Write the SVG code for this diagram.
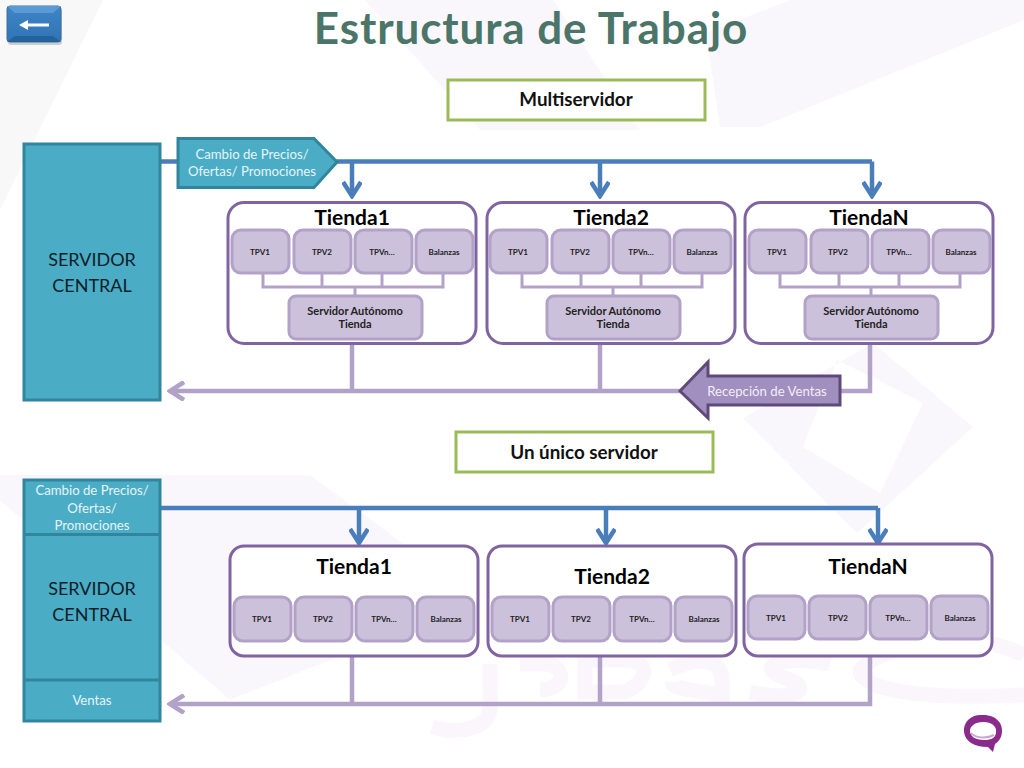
<svg xmlns="http://www.w3.org/2000/svg" width="1024" height="768" viewBox="0 0 1024 768">
<defs>
<linearGradient id="btn" x1="0" y1="0" x2="0" y2="1"><stop offset="0" stop-color="#3f86c6"/><stop offset="1" stop-color="#2f74b5"/></linearGradient>
<marker id="ab" viewBox="0 0 20 20" refX="17" refY="10" markerWidth="20" markerHeight="20" markerUnits="userSpaceOnUse" orient="auto"><path d="M3 1L17 10L3 19" fill="none" stroke="#4a7ebb" stroke-width="4.5"/></marker>
<marker id="ap" viewBox="0 0 20 20" refX="17" refY="10" markerWidth="20" markerHeight="20" markerUnits="userSpaceOnUse" orient="auto"><path d="M3 1L17 10L3 19" fill="none" stroke="#b3a2c7" stroke-width="4.5"/></marker>
</defs>
<style>
text{font-family:"Lato","Carlito","Liberation Sans",sans-serif;text-anchor:middle}
.wm{fill:#faf7fc}
.wl{fill:none;stroke:#fbf6fc;stroke-width:15}
.store{fill:#fff;stroke:#8064a2;stroke-width:3}
.tpv{fill:#ccc1da;stroke:#b3a2c7;stroke-width:3}
.name{font-size:21px;font-weight:700;fill:#000}
.t{font-size:8px;font-weight:700;fill:#222}
.s{font-size:11px;font-weight:700;fill:#222}
.srv{fill:#4bacc6;stroke:#31859c;stroke-width:3}
.big{font-size:18px;fill:#0f1e28}
.w{font-size:13.200px;fill:#e6f4f8}
.lab{fill:#fff;stroke:#9bbb59;stroke-width:3}
.labt{font-size:18.800px;font-weight:700;fill:#111}
.blue{fill:none;stroke:#4a7ebb;stroke-width:4.500px}
.pur{fill:none;stroke:#b3a2c7;stroke-width:4.500px}
.thin{fill:none;stroke:#b3a2c7;stroke-width:3}
</style>
<rect width="1024" height="768" fill="#fff"/>
<g id="background">
<path d="M0 0H103L0 210Z" fill="#f8f8f8"/>
<path class="wm" d="M365 0H553L640 130H480Z"/>
<path class="wm" d="M790 0H1024V20L760 127H720L706 33Z"/>
<path class="wm" fill-rule="evenodd" d="M873 343L973 427L857 533L743 418ZM837 360L803 447L880 493L923 403Z"/>
<path class="wm" d="M0 475H310L480 600L230 700L0 500Z"/>
<path class="wl" d="M490 664V708C490 728 460 735 432 727"/>
<path class="wl" d="M520 664H550C570 674 560 690 540 690"/>
<path class="wl" d="M585 660V692H625C650 680 650 660 625 660Z"/>
<path class="wl" d="M670 670C700 655 722 660 722 680V696C700 690 672 690 672 682"/>
<path class="wl" d="M830 664C790 655 745 665 790 680C815 690 790 702 750 692"/>
<path class="wl" d="M1024 655C950 620 880 650 860 670C860 690 920 700 1024 695"/>
</g>
<g id="title"><text x="531" y="43.500" style="font-size:44px;font-weight:700;letter-spacing:.9px;fill:#4a7568">Estructura de Trabajo</text></g>
<g id="back-button">
<rect x="8" y="9" width="54" height="36" rx="3" fill="#999" opacity=".45"/>
<rect x="7" y="6" width="54" height="36" rx="3" fill="url(#btn)" stroke="#3a6f9f"/>
<path d="M7 6H61L53 13H15Z" fill="#5a9bd5"/>
<path d="M7 42H61L53 36H15Z" fill="#24629c"/>
<path d="M19 25L28 20V23.500H49V26.500H28V30Z" fill="#fff"/>
</g>
<g id="connectors">
<path class="blue" d="M160 161.500H872"/>
<path class="blue" d="M352 161.500V196" marker-end="url(#ab)"/>
<path class="blue" d="M600 161.500V196" marker-end="url(#ab)"/>
<path class="blue" d="M872 161.500V196" marker-end="url(#ab)"/>
<path class="pur" d="M870 344V391H170" marker-end="url(#ap)"/>
<path class="pur" d="M352 344V391M600 344V391"/>
<path class="blue" d="M160 508H878"/>
<path class="blue" d="M359 508V543" marker-end="url(#ab)"/>
<path class="blue" d="M606 508V543" marker-end="url(#ab)"/>
<path class="blue" d="M878 508V543" marker-end="url(#ab)"/>
<path class="pur" d="M870 656V704H170" marker-end="url(#ap)"/>
<path class="pur" d="M352 656V704M600 656V704"/>
</g>
<g id="label-multiserver"><rect class="lab" x="448" y="80" width="257" height="40"/><text class="labt" x="576" y="106">Multiservidor</text></g>
<g id="label-unico"><rect class="lab" x="456" y="432" width="257" height="40"/><text class="labt" x="584" y="459">Un único servidor</text></g>
<g id="servidor-1"><rect class="srv" x="24" y="144" width="136" height="256"/><text class="big" x="92" y="266">SERVIDOR</text><text class="big" x="92" y="292">CENTRAL</text></g>
<g id="cambio-1"><path class="srv" d="M178 138.500H314L337 162L314 187.500H178Z"/><text class="w" x="252" y="159">Cambio de Precios/</text><text class="w" x="252" y="176">Ofertas/ Promociones</text></g>
<g id="recepcion"><path d="M680 391L708 362V376H840V405H708V418Z" fill="#a18fbf" stroke="#5f497a" stroke-width="3"/><text x="767" y="396" style="font-size:13.200px;fill:#f2eef7">Recepción de Ventas</text></g>
<g id="tienda1-a">
<rect class="store" x="228" y="202.500" width="248" height="141" rx="16"/><text class="name" x="352" y="225">Tienda1</text>
<path class="thin" d="M263 273V287H443V273M322 273V287M382 273V287M355 287V296"/>
<rect class="tpv" x="232" y="230" width="57" height="43" rx="9"/><text class="t" x="260" y="255">TPV1</text>
<rect class="tpv" x="294" y="230" width="57" height="43" rx="9"/><text class="t" x="322" y="255">TPV2</text>
<rect class="tpv" x="355" y="230" width="57" height="43" rx="9"/><text class="t" x="382" y="255">TPVn…</text>
<rect class="tpv" x="416" y="230" width="57" height="43" rx="9"/><text class="t" x="444" y="255">Balanzas</text>
<rect class="tpv" x="289" y="296" width="133" height="43" rx="7"/><text class="s" x="355" y="315">Servidor  Autónomo</text><text class="s" x="355" y="328">Tienda</text>
</g>
<g id="tienda2-a">
<rect class="store" x="487" y="202.500" width="248" height="141" rx="16"/><text class="name" x="611" y="225">Tienda2</text>
<path class="thin" d="M522 273V287H702V273M581 273V287M641 273V287M613 287V296"/>
<rect class="tpv" x="490" y="230" width="57" height="43" rx="9"/><text class="t" x="518" y="255">TPV1</text>
<rect class="tpv" x="552" y="230" width="57" height="43" rx="9"/><text class="t" x="580" y="255">TPV2</text>
<rect class="tpv" x="613" y="230" width="57" height="43" rx="9"/><text class="t" x="641" y="255">TPVn…</text>
<rect class="tpv" x="674" y="230" width="57" height="43" rx="9"/><text class="t" x="702" y="255">Balanzas</text>
<rect class="tpv" x="547" y="296" width="133" height="43" rx="7"/><text class="s" x="613" y="315">Servidor Autónomo</text><text class="s" x="613" y="328">Tienda</text>
</g>
<g id="tiendaN-a">
<rect class="store" x="745" y="202.500" width="248" height="141" rx="16"/><text class="name" x="869" y="225">TiendaN</text>
<path class="thin" d="M780 273V287H960V273M839 273V287M899 273V287M871 287V296"/>
<rect class="tpv" x="749" y="230" width="57" height="43" rx="9"/><text class="t" x="777" y="255">TPV1</text>
<rect class="tpv" x="811" y="230" width="57" height="43" rx="9"/><text class="t" x="838" y="255">TPV2</text>
<rect class="tpv" x="872" y="230" width="57" height="43" rx="9"/><text class="t" x="899" y="255">TPVn…</text>
<rect class="tpv" x="933" y="230" width="57" height="43" rx="9"/><text class="t" x="961" y="255">Balanzas</text>
<rect class="tpv" x="805" y="296" width="133" height="43" rx="7"/><text class="s" x="871" y="315">Servidor Autónomo</text><text class="s" x="871" y="328">Tienda</text>
</g>
<g id="servidor-2"><rect class="srv" x="24" y="480" width="136" height="241"/><path class="srv" d="M24 534.500H160M24 680H160" fill="none"/>
<text class="w" x="92" y="495">Cambio de Precios/</text><text class="w" x="92" y="513">Ofertas/</text><text class="w" x="92" y="530">Promociones</text>
<text class="big" x="92" y="595">SERVIDOR</text><text class="big" x="92" y="621">CENTRAL</text><text class="w" x="92" y="705">Ventas</text></g>
<g id="tienda1-b">
<rect class="store" x="230" y="546" width="248" height="110" rx="14"/><text class="name" x="354" y="574">Tienda1</text>
<rect class="tpv" x="234" y="597" width="57" height="44" rx="9"/><text class="t" x="262" y="622">TPV1</text>
<rect class="tpv" x="295" y="597" width="57" height="44" rx="9"/><text class="t" x="323" y="622">TPV2</text>
<rect class="tpv" x="356" y="597" width="57" height="44" rx="9"/><text class="t" x="384" y="622">TPVn…</text>
<rect class="tpv" x="417" y="597" width="57" height="44" rx="9"/><text class="t" x="446" y="622">Balanzas</text>
</g>
<g id="tienda2-b">
<rect class="store" x="488" y="546" width="248" height="110" rx="14"/><text class="name" x="612" y="584">Tienda2</text>
<rect class="tpv" x="492" y="597" width="57" height="44" rx="9"/><text class="t" x="520" y="622">TPV1</text>
<rect class="tpv" x="553" y="597" width="57" height="44" rx="9"/><text class="t" x="581" y="622">TPV2</text>
<rect class="tpv" x="614" y="597" width="57" height="44" rx="9"/><text class="t" x="642" y="622">TPVn…</text>
<rect class="tpv" x="675" y="597" width="57" height="44" rx="9"/><text class="t" x="704" y="622">Balanzas</text>
</g>
<g id="tiendaN-b">
<rect class="store" x="744" y="544" width="248" height="112" rx="14"/><text class="name" x="868" y="574">TiendaN</text>
<rect class="tpv" x="748" y="596" width="57" height="43" rx="9"/><text class="t" x="776" y="621">TPV1</text>
<rect class="tpv" x="809" y="596" width="57" height="43" rx="9"/><text class="t" x="838" y="621">TPV2</text>
<rect class="tpv" x="870" y="596" width="57" height="43" rx="9"/><text class="t" x="898" y="621">TPVn…</text>
<rect class="tpv" x="931" y="596" width="57" height="43" rx="9"/><text class="t" x="960" y="621">Balanzas</text>
</g>
<g id="logo">
<path d="M983 715C971 714 963 722 964 732C965 741 974 747 988 747L993 752L995 744C1002 740 1004 730 1000 723C996 717 990 715 983 715ZM983 722C994 722 997 728 996 733C995 739 990 740 984 740C975 740 970 736 970 731C970 726 975 722 983 722Z" fill="#8a2a8a" fill-rule="evenodd"/>
<path d="M971 733C975 738 986 739 994 735" fill="none" stroke="#c9a8cf" stroke-width="2"/>
</g>
</svg>
